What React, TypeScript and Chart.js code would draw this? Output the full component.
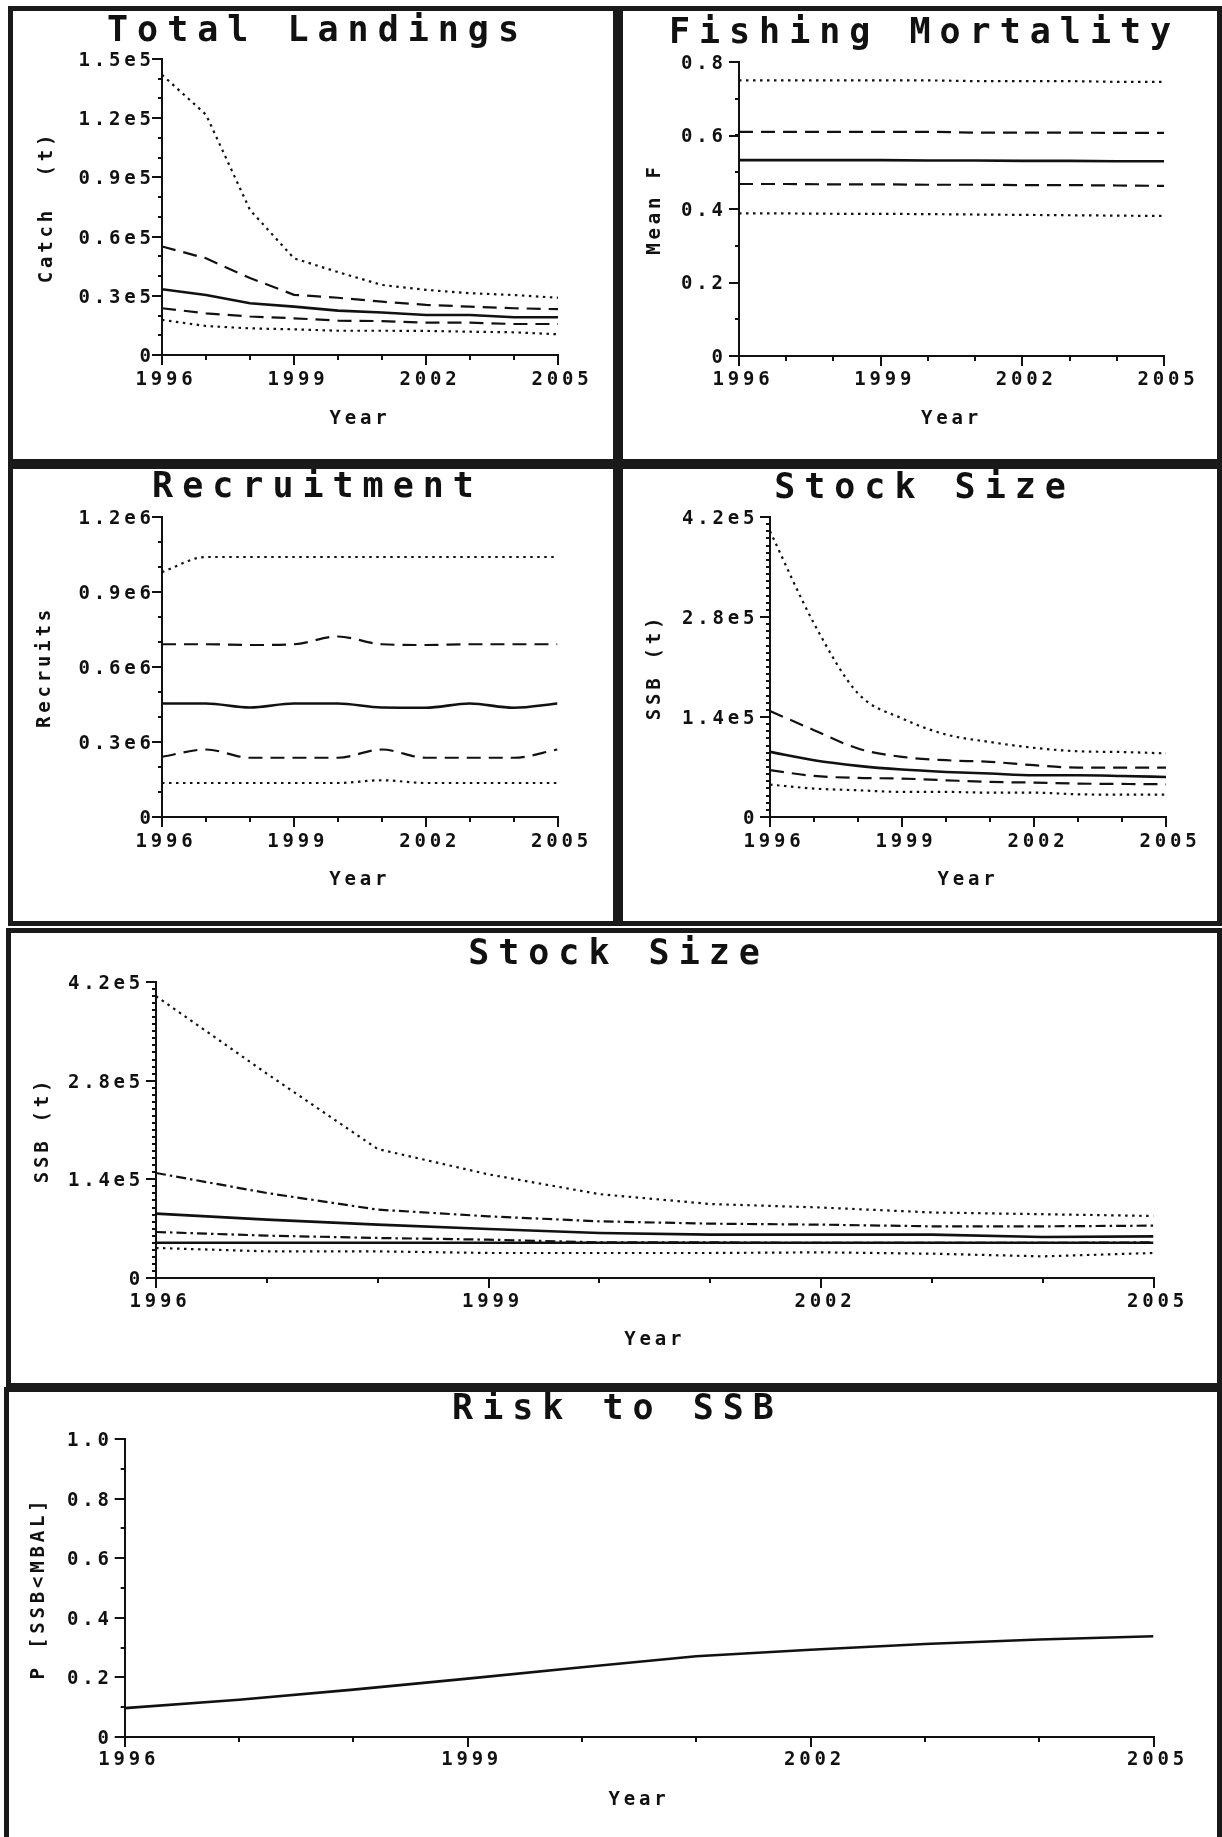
import React, { useEffect, useRef } from 'react';
import { Chart, registerables } from 'chart.js';

Chart.register(...registerables);

// ---------------- data ----------------
const YEARS = [1996, 1997, 1998, 1999, 2000, 2001, 2002, 2003, 2004, 2005];
const YEAR_TICKS = [1996, 1999, 2002, 2005];
const YEAR_TICK_LABELS = ['1996', '1999', '2002', '2005'];

// Total Landings (t)
const LAND_HI95 = [142000, 121800, 73500, 49000, 42000, 35500, 33000, 31300, 30400, 29000];
const LAND_HI75 = [55000, 49000, 39000, 30500, 29000, 27000, 25400, 24500, 23700, 23200];
const LAND_MED = [33300, 30400, 26200, 24500, 22500, 21500, 20300, 20300, 19100, 19100];
const LAND_LO25 = [23700, 21100, 19500, 18600, 17400, 17200, 16400, 16400, 15700, 15700];
const LAND_LO05 = [17800, 14700, 13500, 13000, 12300, 12300, 12200, 11800, 11500, 10500];
const LAND_TICKS = [0, 30000, 60000, 90000, 120000, 150000];
const LAND_TICK_LABELS = ['0', '0.3e5', '0.6e5', '0.9e5', '1.2e5', '1.5e5'];

// Fishing Mortality (mean F)
const F_HI95 = [0.75, 0.75, 0.75, 0.75, 0.75, 0.748, 0.748, 0.748, 0.746, 0.746];
const F_HI75 = [0.61, 0.61, 0.61, 0.61, 0.61, 0.608, 0.608, 0.608, 0.607, 0.607];
const F_MED = [0.533, 0.533, 0.533, 0.533, 0.532, 0.532, 0.531, 0.531, 0.53, 0.53];
const F_LO25 = [0.468, 0.468, 0.467, 0.467, 0.466, 0.466, 0.465, 0.465, 0.464, 0.463];
const F_LO05 = [0.388, 0.388, 0.387, 0.387, 0.386, 0.385, 0.384, 0.383, 0.382, 0.381];
const F_TICKS = [0, 0.2, 0.4, 0.6, 0.8];
const F_TICK_LABELS = ['0', '0.2', '0.4', '0.6', '0.8'];

// Recruitment
const REC_HI95 = [980000, 1040000, 1040000, 1040000, 1040000, 1040000, 1040000, 1040000, 1040000, 1040000];
const REC_HI75 = [691000, 691000, 688000, 691000, 722000, 691000, 688000, 691000, 691000, 691000];
const REC_MED = [454000, 454000, 438000, 454000, 454000, 438000, 437000, 454000, 437000, 454000];
const REC_LO25 = [241000, 270000, 237000, 237000, 237000, 270000, 237000, 237000, 237000, 270000];
const REC_LO05 = [136000, 136000, 136000, 136000, 136000, 147000, 136000, 136000, 136000, 136000];
const REC_TICKS = [0, 300000, 600000, 900000, 1200000];
const REC_TICK_LABELS = ['0', '0.3e6', '0.6e6', '0.9e6', '1.2e6'];

// Stock Size (small panel)
const SSB_HI95 = [400000, 271000, 173000, 138000, 115500, 105000, 96800, 92000, 91000, 89000];
const SSB_HI75 = [148300, 121600, 95900, 84200, 79500, 77200, 72500, 69200, 69200, 69200];
const SSB_MED = [91200, 79500, 71600, 66400, 63100, 60800, 58500, 58500, 57500, 56100];
const SSB_LO25 = [65500, 57500, 54700, 53800, 51400, 49100, 48200, 46800, 46300, 45800];
const SSB_LO05 = [45400, 39800, 37400, 35100, 35100, 34100, 34100, 31800, 31300, 31300];
const SSB_TICKS = [0, 140000, 280000, 420000];
const SSB_TICK_LABELS = ['0', '1.4e5', '2.8e5', '4.2e5'];

// Stock Size (wide panel)
const SSB2_HI95 = [400000, 290000, 183000, 147000, 119000, 105000, 100000, 93000, 90500, 88000];
const SSB2_HI75 = [149000, 120600, 97000, 87500, 80400, 77100, 75700, 73300, 73300, 74300];
const SSB2_MED = [91300, 82800, 75700, 69500, 63900, 61500, 61500, 61500, 58200, 59100];
const SSB2_LO25 = [65300, 60100, 56800, 54400, 50600, 50600, 49700, 49700, 49700, 50600];
const SSB2_MBAL = [50000, 50000, 50000, 50000, 50000, 50000, 50000, 50000, 50000, 50000];
const SSB2_LO05 = [42600, 37800, 37800, 35500, 35500, 35500, 36400, 34500, 30700, 35500];

// Risk to SSB
const RISK = [0.097, 0.125, 0.159, 0.196, 0.234, 0.271, 0.293, 0.312, 0.327, 0.338];
const RISK_TICKS = [0, 0.2, 0.4, 0.6, 0.8, 1.0];
const RISK_TICK_LABELS = ['0', '0.2', '0.4', '0.6', '0.8', '1.0'];

// ---------------- styles ----------------
const INK = '#111111';
const FONT = "'DejaVu Sans Mono', monospace";
const TITLE_SIZE = 35;
const TITLE_LH = 0.8;
const TITLE_SPACING = 9;
const TITLE_NUDGE = 4;
const TEXT_SIZE = 19;
const TEXT_LH = 1.2;
const TEXT_SPACING = 3.8;
const TEXT_NUDGE = 2;
const TICK_LEN = 10;
const X_MINOR_LEN = 5;
const Y_MINOR_LEN = 4;

type LineStyle = 'dot' | 'dash' | 'dashdot' | 'solid';
const DASHES: Record<LineStyle, number[]> = {
  dot: [2.5, 4.5],
  dash: [14, 8],
  dashdot: [10, 4, 2.5, 4],
  solid: [],
};

interface SeriesSpec { data: number[]; style: LineStyle }
interface PanelSpec {
  title: string;
  yTitle: string;
  frame: number[];
  canvas: number[];
  area: number[];
  titleY: number;
  yTitleX: number;
  yTickRight: number;
  xTickY: number;
  xTitleY: number;
  yMax: number;
  yTicks: number[];
  yLabels: string[];
  yMinorStep: number;
  smooth: boolean;
  series: SeriesSpec[];
}

const PANELS: PanelSpec[] = [
  {
    title: 'Total Landings', yTitle: 'Catch  (t)',
    frame: [8, 6, 610, 458], canvas: [13, 11, 600, 448], area: [162, 59, 558, 355],
    titleY: 27.5, yTitleX: 47, yTickRight: 151, xTickY: 378, xTitleY: 417,
    yMax: 150000, yTicks: LAND_TICKS, yLabels: LAND_TICK_LABELS, yMinorStep: 10000, smooth: false,
    series: [
      { data: LAND_HI95, style: 'dot' },
      { data: LAND_HI75, style: 'dash' },
      { data: LAND_MED, style: 'solid' },
      { data: LAND_LO25, style: 'dash' },
      { data: LAND_LO05, style: 'dot' },
    ],
  },
  {
    title: 'Fishing Mortality', yTitle: 'Mean F',
    frame: [618, 6, 604, 458], canvas: [623, 11, 594, 448], area: [739, 62, 1164, 356],
    titleY: 29.5, yTitleX: 655, yTickRight: 723, xTickY: 378, xTitleY: 416.7,
    yMax: 0.8, yTicks: F_TICKS, yLabels: F_TICK_LABELS, yMinorStep: 0.1, smooth: false,
    series: [
      { data: F_HI95, style: 'dot' },
      { data: F_HI75, style: 'dash' },
      { data: F_MED, style: 'solid' },
      { data: F_LO25, style: 'dash' },
      { data: F_LO05, style: 'dot' },
    ],
  },
  {
    title: 'Recruitment', yTitle: 'Recruits',
    frame: [8, 464, 610, 462], canvas: [13, 469, 600, 452], area: [162, 517, 557.5, 817],
    titleY: 484, yTitleX: 45.5, yTickRight: 151, xTickY: 840, xTitleY: 877.7,
    yMax: 1200000, yTicks: REC_TICKS, yLabels: REC_TICK_LABELS, yMinorStep: 100000, smooth: true,
    series: [
      { data: REC_HI95, style: 'dot' },
      { data: REC_HI75, style: 'dash' },
      { data: REC_MED, style: 'solid' },
      { data: REC_LO25, style: 'dash' },
      { data: REC_LO05, style: 'dot' },
    ],
  },
  {
    title: 'Stock Size', yTitle: 'SSB (t)',
    frame: [618, 464, 604, 462], canvas: [623, 469, 594, 452], area: [770, 517, 1166, 817],
    titleY: 485, yTitleX: 655, yTickRight: 754.5, xTickY: 840, xTitleY: 877.7,
    yMax: 420000, yTicks: SSB_TICKS, yLabels: SSB_TICK_LABELS, yMinorStep: 10000, smooth: true,
    series: [
      { data: SSB_HI95, style: 'dot' },
      { data: SSB_HI75, style: 'dash' },
      { data: SSB_MED, style: 'solid' },
      { data: SSB_LO25, style: 'dash' },
      { data: SSB_LO05, style: 'dot' },
    ],
  },
  {
    title: 'Stock Size', yTitle: 'SSB (t)',
    frame: [6, 928, 1216, 460], canvas: [11, 933, 1206, 450], area: [156, 982, 1153.5, 1278],
    titleY: 950.5, yTitleX: 43, yTickRight: 140.3, xTickY: 1300, xTitleY: 1338.3,
    yMax: 420000, yTicks: SSB_TICKS, yLabels: SSB_TICK_LABELS, yMinorStep: 10000, smooth: false,
    series: [
      { data: SSB2_HI95, style: 'dot' },
      { data: SSB2_HI75, style: 'dashdot' },
      { data: SSB2_MED, style: 'solid' },
      { data: SSB2_LO25, style: 'dashdot' },
      { data: SSB2_MBAL, style: 'solid' },
      { data: SSB2_LO05, style: 'dot' },
    ],
  },
  {
    title: 'Risk to SSB', yTitle: 'P [SSB<MBAL]',
    frame: [4, 1387, 1218, 460], canvas: [9, 1392, 1208, 445], area: [124.7, 1439, 1153.5, 1737],
    titleY: 1406, yTitleX: 39, yTickRight: 109, xTickY: 1758, xTitleY: 1797.7,
    yMax: 1, yTicks: RISK_TICKS, yLabels: RISK_TICK_LABELS, yMinorStep: 0.1, smooth: false,
    series: [{ data: RISK, style: 'solid' }],
  },
];

// ---------------- plugins ----------------
const spacingPlugin = {
  id: 'letterSpacing',
  beforeDraw(chart: any) {
    const ctx: any = chart.ctx;
    ctx.letterSpacing = TEXT_SPACING + 'px';
    const tb: any = chart.titleBlock;
    if (tb && !tb.__spaced) {
      const orig = tb.draw;
      tb.draw = function (...args: any[]) {
        const c: any = this.ctx;
        const prev = c.letterSpacing;
        c.letterSpacing = TITLE_SPACING + 'px';
        orig.apply(this, args);
        c.letterSpacing = prev;
      };
      tb.__spaced = true;
    }
  },
  afterDraw(chart: any) {
    (chart.ctx as any).letterSpacing = '0px';
  },
};

const minorTickPlugin = {
  id: 'minorTicks',
  afterDraw(chart: any, _args: any, opts: any) {
    const { ctx } = chart;
    const xs = chart.scales.x;
    const ys = chart.scales.y;
    ctx.save();
    ctx.strokeStyle = INK;
    ctx.lineWidth = 2;
    ctx.beginPath();
    for (const yr of YEARS) {
      const px = Math.round(xs.getPixelForValue(yr));
      ctx.moveTo(px, xs.top);
      ctx.lineTo(px, xs.top + X_MINOR_LEN);
    }
    const n = Math.round(opts.yMax / opts.yStep);
    for (let k = 0; k <= n; k++) {
      const py = Math.round(ys.getPixelForValue(k * opts.yStep));
      ctx.moveTo(ys.right - Y_MINOR_LEN, py);
      ctx.lineTo(ys.right, py);
    }
    ctx.stroke();
    ctx.restore();
  },
};

// ---------------- components ----------------
function Panel({ spec }: { spec: PanelSpec }) {
  const ref = useRef<HTMLCanvasElement | null>(null);
  const [cx, cy, cw, ch] = spec.canvas;

  useEffect(() => {
    if (!ref.current) return;
    const [al, at, ar, ab] = spec.area;
    const L = { left: al - cx, top: at - cy, right: ar - cx, bottom: ab - cy };
    const padLeft = TITLE_SPACING; // recentres the letter-spaced title
    const halfText = (TEXT_SIZE * TEXT_LH) / 2;
    const halfTitle = (TITLE_SIZE * TITLE_LH) / 2;
    const titleRel = spec.titleY - cy + TITLE_NUDGE;
    const textFont = { family: FONT, size: TEXT_SIZE, weight: 'bold' as const, lineHeight: TEXT_LH };

    const chart = new Chart(ref.current, {
      type: 'line',
      data: {
        datasets: spec.series.map((s) => ({
          data: YEARS.map((yr, i) => ({ x: yr, y: s.data[i] })),
          borderColor: INK,
          borderWidth: s.style === 'solid' ? 2.6 : 2.2,
          borderDash: DASHES[s.style],
          borderCapStyle: 'butt' as const,
          pointRadius: 0,
          fill: false,
          tension: spec.smooth ? 0.4 : 0,
          cubicInterpolationMode: spec.smooth ? ('monotone' as const) : ('default' as const),
        })),
      },
      options: {
        responsive: false,
        animation: false,
        events: [],
        layout: { padding: { left: padLeft, right: 0, top: 0, bottom: 0 } },
        plugins: {
          legend: { display: false },
          tooltip: { enabled: false },
          title: {
            display: true,
            text: spec.title,
            color: INK,
            font: { family: FONT, size: TITLE_SIZE, weight: 'bold', lineHeight: TITLE_LH },
            padding: { top: titleRel - halfTitle, bottom: L.top - titleRel - halfTitle },
          },
          // @ts-ignore
          minorTicks: { yMax: spec.yMax, yStep: spec.yMinorStep },
        },
        scales: {
          x: {
            type: 'linear',
            min: 1996,
            max: 2005,
            afterBuildTicks: (s: any) => {
              s.ticks = YEAR_TICKS.map((v) => ({ value: v }));
            },
            afterFit: (s: any) => {
              s.height = ch - L.bottom;
              s.paddingLeft = 0;
              s.paddingRight = cw - L.right;
            },
            ticks: {
              color: INK,
              font: textFont,
              autoSkip: false,
              maxRotation: 0,
              labelOffset: 4,
              padding: spec.xTickY - cy + TEXT_NUDGE - L.bottom - TICK_LEN - halfText,
              callback: (_v: any, i: number) => YEAR_TICK_LABELS[i],
            },
            grid: {
              display: true,
              drawOnChartArea: false,
              drawTicks: true,
              tickLength: TICK_LEN,
              tickWidth: 2,
              tickColor: INK,
              color: INK,
              lineWidth: 2,
            },
            border: { display: true, color: INK, width: 2 },
            title: {
              display: true,
              text: 'Year',
              color: INK,
              font: textFont,
              padding: { top: 0, bottom: ch - (spec.xTitleY - cy + TEXT_NUDGE) - halfText },
            },
          },
          y: {
            type: 'linear',
            min: 0,
            max: spec.yMax,
            afterBuildTicks: (s: any) => {
              s.ticks = spec.yTicks.map((v) => ({ value: v }));
            },
            afterFit: (s: any) => {
              s.width = L.left - padLeft;
            },
            ticks: {
              color: INK,
              font: textFont,
              autoSkip: false,
              labelOffset: TEXT_NUDGE,
              padding: L.left - TICK_LEN - (spec.yTickRight - cx + TEXT_SPACING),
              callback: (_v: any, i: number) => spec.yLabels[i],
            },
            grid: {
              display: true,
              drawOnChartArea: false,
              drawTicks: true,
              tickLength: TICK_LEN,
              tickWidth: 2,
              tickColor: INK,
              color: INK,
              lineWidth: 2,
            },
            border: { display: true, color: INK, width: 2 },
            title: {
              display: true,
              text: spec.yTitle,
              color: INK,
              font: textFont,
              padding: { top: spec.yTitleX - cx - padLeft - halfText, bottom: 0 },
            },
          },
        },
      } as any,
      plugins: [spacingPlugin, minorTickPlugin] as any,
    });
    return () => chart.destroy();
  }, [spec]);

  const [fx, fy, fw, fh] = spec.frame;
  return (
    <>
      <div
        style={{
          position: 'absolute',
          left: fx,
          top: fy,
          width: fw,
          height: fh,
          boxSizing: 'border-box',
          border: '5px solid #1a1a1a',
          background: '#ffffff',
        }}
      />
      <canvas
        ref={ref}
        width={cw}
        height={ch}
        style={{ position: 'absolute', left: cx, top: cy, width: cw, height: ch }}
      />
    </>
  );
}

export default function App() {
  return (
    <div
      style={{
        position: 'absolute',
        left: 0,
        top: 0,
        width: 1222,
        height: 1837,
        overflow: 'hidden',
        background: '#ffffff',
      }}
    >
      {PANELS.map((p, i) => (
        <Panel key={i} spec={p} />
      ))}
    </div>
  );
}
